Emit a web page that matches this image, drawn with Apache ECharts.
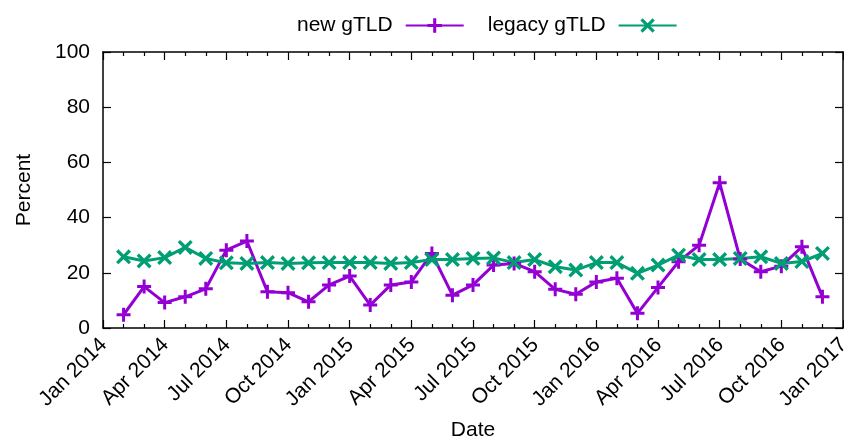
<!DOCTYPE html>
<html>
<head>
<meta charset="utf-8">
<script src="https://cdn.jsdelivr.net/npm/echarts@6/dist/echarts.min.js"></script>
<style>
  html, body { margin: 0; padding: 0; background: #fff; }
  #chart { width: 844px; height: 438px; }
</style>
</head>
<body>
<div id="chart"></div>
<script>
// monthly samples, Feb 2014 .. Dec 2016
var months = [
  '2014-02', '2014-03', '2014-04', '2014-05', '2014-06', '2014-07', '2014-08', '2014-09', '2014-10', '2014-11', '2014-12',
  '2015-01', '2015-02', '2015-03', '2015-04', '2015-05', '2015-06', '2015-07', '2015-08', '2015-09', '2015-10', '2015-11', '2015-12',
  '2016-01', '2016-02', '2016-03', '2016-04', '2016-05', '2016-06', '2016-07', '2016-08', '2016-09', '2016-10', '2016-11', '2016-12'
];
var newGtld = [
  4.8, 15.0, 9.2, 11.3, 14.2, 28.2, 31.5, 13.1, 12.8, 9.5, 15.6,
  18.8, 8.3, 15.6, 16.7, 27.0, 11.9, 15.6, 22.8, 23.4, 20.4, 14.0, 12.2,
  16.7, 18.0, 5.3, 14.7, 24.0, 30.0, 52.6, 25.0, 20.4, 22.4, 29.4, 11.3
];
var legacyGtld = [
  25.8, 24.3, 25.5, 29.2, 25.2, 23.6, 23.4, 23.7, 23.4, 23.6, 23.7,
  23.7, 23.7, 23.4, 23.7, 24.8, 24.8, 25.2, 25.4, 23.7, 24.8, 22.2, 21.0,
  23.7, 23.7, 19.8, 22.8, 26.4, 24.8, 24.8, 25.2, 25.8, 23.4, 24.1, 27.0
];
// quarterly tick labels, Jan 2014 .. Jan 2017
var xTickLabels = [
  'Jan 2014', 'Apr 2014', 'Jul 2014', 'Oct 2014',
  'Jan 2015', 'Apr 2015', 'Jul 2015', 'Oct 2015',
  'Jan 2016', 'Apr 2016', 'Jul 2016', 'Oct 2016', 'Jan 2017'
];

// month offset from Jan 2014
function monthIndex(s) {
  var p = s.split('-');
  return (parseInt(p[0]) - 2014) * 12 + parseInt(p[1]) - 1;
}
function pairs(vals) {
  return months.map(function (m, i) { return [monthIndex(m), vals[i]]; });
}

var plusPath = 'path://M5.5,0H8.5V5.5H14V8.5H8.5V14H5.5V8.5H0V5.5H5.5Z';
var crossPath = 'path://M0,2.2L2.2,0L7,4.8L11.8,0L14,2.2L9.2,7L14,11.8L11.8,14L7,9.2L2.2,14L0,11.8L4.8,7Z';
var font = 'Liberation Sans, Arial, Helvetica, sans-serif';
var fs = 21;

var tickStyle = { color: '#000', width: 1.2 };
var lineStyle = { color: '#000', width: 1.5 };

var chart = echarts.init(document.getElementById('chart'));
var option = {
  animation: false,
  textStyle: { fontFamily: font },
  grid: { left: 103, right: 1, top: 52, bottom: 110, outerBoundsMode: 'none', containLabel: false },
  legend: {
    top: 10,
    left: 292,
    align: 'right',
    itemWidth: 58,
    itemHeight: 18,
    itemGap: 23,
    textStyle: { fontFamily: font, fontSize: fs, color: '#000', padding: [0, 8, 0, 0] },
    data: ['new gTLD', 'legacy gTLD']
  },
  xAxis: [
    {
      type: 'value',
      min: 0,
      max: 36,
      interval: 3,
      name: 'Date',
      nameLocation: 'middle',
      nameGap: 92,
      nameTextStyle: { fontFamily: font, fontSize: fs, color: '#000' },
      axisLine: { onZero: false, lineStyle: lineStyle },
      axisTick: { inside: true, length: 8, lineStyle: tickStyle },
      minorTick: { show: true, splitNumber: 3, length: 4, lineStyle: tickStyle },
      axisLabel: {
        rotate: 45,
        margin: 13,
        verticalAlign: 'top',
        lineHeight: 2,
        fontFamily: font,
        fontSize: fs,
        color: '#000',
        formatter: function (v) { return xTickLabels[Math.round(v / 3)]; }
      },
      splitLine: { show: false }
    },
    {
      type: 'value',
      position: 'top',
      min: 0,
      max: 36,
      interval: 3,
      axisLine: { show: true, onZero: false, lineStyle: lineStyle },
      axisTick: { show: true, inside: true, length: 8, lineStyle: tickStyle },
      minorTick: { show: true, splitNumber: 3, length: 4, lineStyle: tickStyle },
      axisLabel: { show: false },
      splitLine: { show: false }
    }
  ],
  yAxis: [
    {
      type: 'value',
      min: 0,
      max: 100,
      interval: 20,
      name: 'Percent',
      nameLocation: 'middle',
      nameGap: 68,
      nameTextStyle: { fontFamily: font, fontSize: fs, color: '#000' },
      axisLine: { show: true, onZero: false, lineStyle: lineStyle },
      axisTick: { show: true, inside: true, length: 8, lineStyle: tickStyle },
      axisLabel: { margin: 13, fontFamily: font, fontSize: fs, color: '#000' },
      splitLine: { show: false }
    },
    {
      type: 'value',
      position: 'right',
      min: 0,
      max: 100,
      interval: 20,
      axisLine: { show: true, onZero: false, lineStyle: lineStyle },
      axisTick: { show: true, inside: true, length: 8, lineStyle: tickStyle },
      axisLabel: { show: false },
      splitLine: { show: false }
    }
  ],
  series: [
    {
      name: 'new gTLD',
      type: 'line',
      data: pairs(newGtld),
      symbol: plusPath,
      symbolSize: 14,
      lineStyle: { color: '#9400d3', width: 3 },
      itemStyle: { color: '#9400d3', borderWidth: 0 }
    },
    {
      name: 'legacy gTLD',
      type: 'line',
      data: pairs(legacyGtld),
      symbol: crossPath,
      symbolSize: 15,
      lineStyle: { color: '#009e73', width: 3 },
      itemStyle: { color: '#009e73', borderWidth: 0 }
    }
  ]
};
chart.setOption(option);
</script>
</body>
</html>
